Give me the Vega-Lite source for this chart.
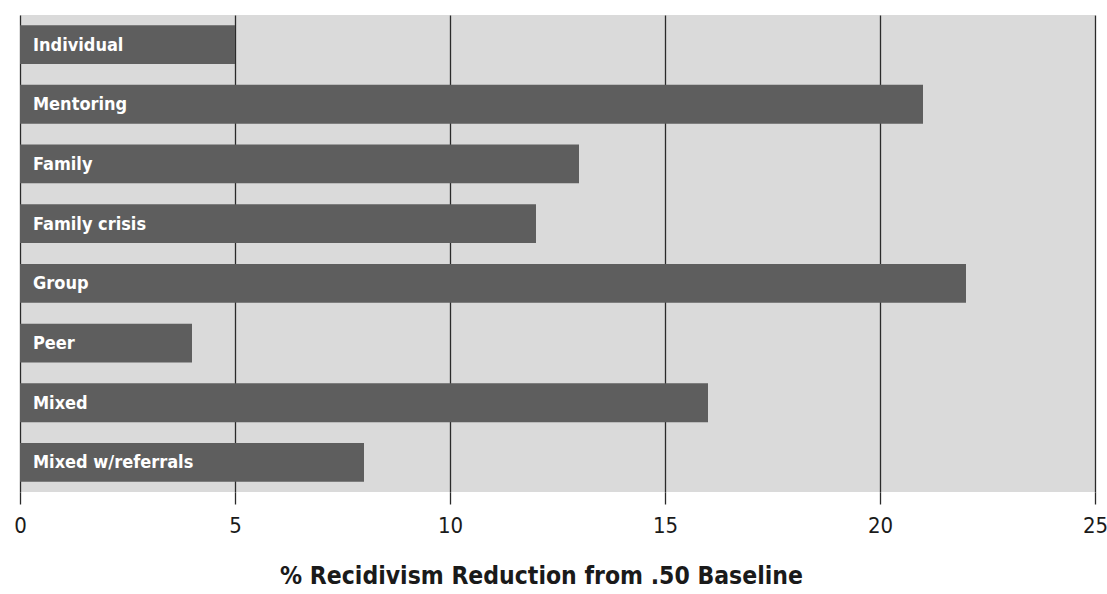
{
  "$schema": "https://vega.github.io/schema/vega-lite/v6.json",
  "autosize": "none",
  "width": 1075,
  "height": 477,
  "padding": {"left": 20, "top": 15, "right": 12, "bottom": 102},
  "background": "#ffffff",
  "config": {
    "view": {"stroke": null, "fill": "#dadada"},
    "font": "DejaVu Sans Condensed"
  },
  "data": {
    "values": [
      {"program": "Individual", "reduction": 5},
      {"program": "Mentoring", "reduction": 21},
      {"program": "Family", "reduction": 13},
      {"program": "Family crisis", "reduction": 12},
      {"program": "Group", "reduction": 22},
      {"program": "Peer", "reduction": 4},
      {"program": "Mixed", "reduction": 16},
      {"program": "Mixed w/referrals", "reduction": 8}
    ]
  },
  "encoding": {
    "y": {
      "field": "program",
      "type": "nominal",
      "sort": null,
      "axis": null,
      "scale": {"paddingInner": 0.35, "paddingOuter": 0.17}
    }
  },
  "layer": [
    {
      "mark": {"type": "bar", "color": "#5e5e5e"},
      "encoding": {
        "x": {
          "field": "reduction",
          "type": "quantitative",
          "scale": {"domain": [0, 25], "nice": false},
          "axis": {
            "values": [0, 5, 10, 15, 20, 25],
            "grid": true,
            "gridColor": "#2a2a2a",
            "gridWidth": 1.3,
            "gridOpacity": 1,
            "domain": false,
            "ticks": true,
            "tickSize": 12,
            "tickColor": "#2a2a2a",
            "tickWidth": 1.3,
            "labelFont": "DejaVu Sans Condensed",
            "labelFontSize": 22,
            "labelColor": "#1a1a1a",
            "labelPadding": 11,
            "labelFlush": false,
            "title": "% Recidivism Reduction from .50 Baseline",
            "titleFont": "DejaVu Sans Condensed",
            "titleFontSize": 24.5,
            "titleFontWeight": "bold",
            "titleColor": "#1a1a1a",
            "titlePadding": 28,
            "titleX": 521,
            "titleAlign": "center",
            "titleAnchor": null
          }
        }
      }
    },
    {
      "mark": {
        "type": "text",
        "align": "left",
        "baseline": "middle",
        "dx": 13,
        "dy": 1,
        "color": "#ffffff",
        "font": "DejaVu Sans Condensed",
        "fontSize": 18,
        "fontWeight": "bold"
      },
      "encoding": {
        "x": {"datum": 0, "type": "quantitative"},
        "text": {"field": "program"}
      }
    }
  ]
}
